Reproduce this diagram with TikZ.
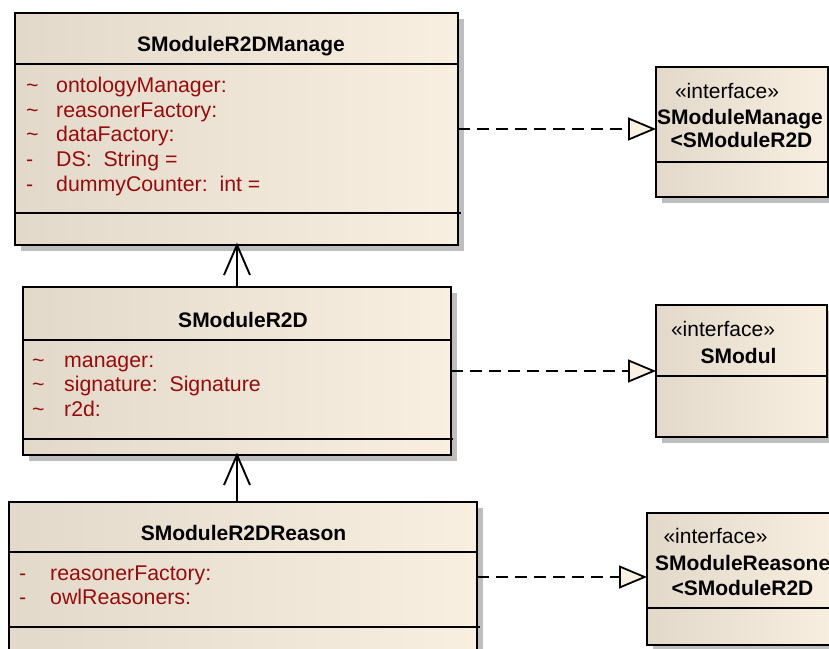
\documentclass[tikz,border=0pt]{standalone}
\usepackage{fontspec}
\setmainfont{Liberation Sans}
\usetikzlibrary{arrows.meta,shadows,calc}
\definecolor{boxL}{RGB}{226,217,203}
\definecolor{boxR}{RGB}{249,239,225}
\definecolor{attr}{RGB}{150,12,12}
\definecolor{cream}{RGB}{250,241,227}
\definecolor{shadecol}{RGB}{190,190,190}
\begin{document}
\begin{tikzpicture}[x=1pt,y=-1pt,
  umlbox/.style={draw=black, line width=1.8pt, left color=boxL, right color=boxR,
    inner sep=0pt, outer sep=0pt, rectangle,
    drop shadow={shadow xshift=6pt, shadow yshift=-6pt, fill=shadecol, opacity=1}},
  sepline/.style={draw=black, line width=1.8pt},
  ttl/.style={font=\fontsize{21}{25}\selectfont\bfseries, anchor=base, inner sep=0pt},
  stereo/.style={font=\fontsize{21}{25}\selectfont, anchor=base, inner sep=0pt},
  vis/.style={font=\fontsize{21.3}{25}\selectfont, text=attr, anchor=base west, inner sep=0pt},
  att/.style={font=\fontsize{21.3}{25}\selectfont, text=attr, anchor=base west, inner sep=0pt},
  real/.style={draw=black, line width=2.1pt, dash pattern=on 12.3pt off 6.7pt,
    -{Triangle[length=28pt,width=23pt,fill=cream,line width=1.8pt]}},
  gen/.style={draw=black, line width=1.9pt, line cap=butt, line join=miter}
]
\useasboundingbox (0,0) rectangle (829,648);

% ---------- SModuleR2DManage ----------
\node[umlbox, minimum width=443pt, minimum height=232pt] (manage) at (236.5,129) {};
\draw[sepline] (15,64) -- (458,64);
\draw[sepline] (15,213) -- (461,213);
\node[ttl] (manageT) at (241,51.5) {SModuleR2DManage};
\node[vis] (m1v) at (26,92) {\textasciitilde};
\node[att] (m1) at (56,92) {ontologyManager:};
\node[vis] (m2v) at (26,117) {\textasciitilde};
\node[att] (m2) at (56,117) {reasonerFactory:};
\node[vis] (m3v) at (26,141.5) {\textasciitilde};
\node[att] (m3) at (56,141.5) {dataFactory:};
\node[vis] (m4v) at (26,166.5) {-};
\node[att] (m4) at (56,166.5) {DS:\ \ String =};
\node[vis] (m5v) at (26,191) {-};
\node[att] (m5) at (56,191) {dummyCounter:\ \ int =};

% ---------- SModuleR2D ----------
\node[umlbox, minimum width=428pt, minimum height=168pt] (r2d) at (237,371) {};
\draw[sepline] (23,340) -- (451,340);
\draw[sepline] (23,439) -- (453,439);
\node[ttl] (r2dT) at (243,327) {SModuleR2D};
\node[vis] (r1v) at (32,367) {\textasciitilde};
\node[att] (r1) at (64,367) {manager:};
\node[vis] (r2v) at (32,391.5) {\textasciitilde};
\node[att] (r2) at (64,391.5) {signature:\ \ Signature};
\node[vis] (r3v) at (32,416) {\textasciitilde};
\node[att] (r3) at (64,416) {r2d:};

% ---------- SModuleR2DReason ----------
\node[umlbox, minimum width=468pt, minimum height=150pt] (reason) at (243,577) {};
\draw[sepline] (9,552) -- (477,552);
\draw[sepline] (9,627) -- (480,627);
\node[ttl] (reasonT) at (243.5,540) {SModuleR2DReason};
\node[vis] (s1v) at (19,580) {-};
\node[att] (s1) at (50,580) {reasonerFactory:};
\node[vis] (s2v) at (19,604) {-};
\node[att] (s2) at (50,604) {owlReasoners:};

% ---------- Interfaces ----------
\node[umlbox, minimum width=172pt, minimum height=130pt] (i1) at (742,132) {};
\draw[sepline] (656,162) -- (828,162);
\node[stereo] (i1s) at (727,98) {«interface»};
\node[ttl] (i1a) at (740,124) {SModuleManage};
\node[ttl] (i1b) at (741.5,147) {<SModuleR2D};

\node[umlbox, minimum width=171pt, minimum height=132pt] (i2) at (741.5,371) {};
\draw[sepline] (656,376) -- (827,376);
\node[stereo] (i2s) at (723,336) {«interface»};
\node[ttl] (i2a) at (738.5,363) {SModul};

\node[umlbox, minimum width=191pt, minimum height=132pt] (i3) at (742.5,579) {};
\draw[sepline] (647,608) -- (838,608);
\node[stereo] (i3s) at (715.5,543) {«interface»};
\node[ttl, anchor=base west] (i3a) at (655,570) {SModuleReasone};
\node[ttl] (i3b) at (742.5,595) {<SModuleR2D};

% ---------- Realizations ----------
\draw[real] (manage.east) -- (manage.east -| i1.west);
\draw[real] (r2d.east) -- (r2d.east -| i2.west);
\draw[real] (reason.east) -- (reason.east -| i3.west);

% ---------- Generalizations ----------
\coordinate (g1) at (r2d.north |- manage.south);
\draw[gen] (r2d.north) -- (g1);
\draw[gen] ($(g1)+(-13,30)$) -- (g1) -- ($(g1)+(13,30)$);
\coordinate (g2) at (r2d.south |- reason.north);
\draw[gen] (g2) -- (r2d.south);
\draw[gen] ($(r2d.south)+(-13,30)$) -- (r2d.south) -- ($(r2d.south)+(13,30)$);
\end{tikzpicture}
\end{document}
